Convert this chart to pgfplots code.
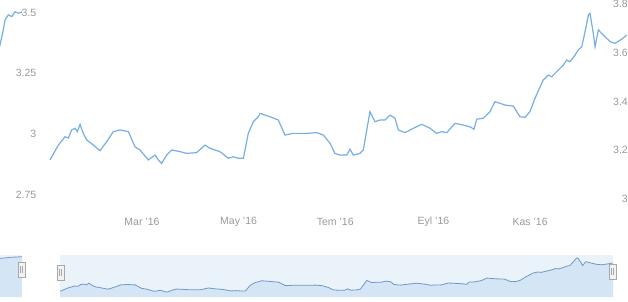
\documentclass[border=0pt]{standalone}
\usepackage{pgfplots}
\pgfplotsset{compat=1.18}
\usepackage{pgfplotstable}
\usepackage{fontspec}
\setmainfont{Liberation Sans}
\definecolor{serie}{HTML}{76AEE6}
\definecolor{navline}{HTML}{7199C6}
\definecolor{navbg}{HTML}{EAF2FA}
\definecolor{navarea}{HTML}{D4E5F5}
\definecolor{lbl}{HTML}{999999}
\definecolor{hdl}{HTML}{F2F2F2}
\definecolor{hdlb}{HTML}{A8A8A8}

\pgfplotstableread{
d v
1.9 3.160
7.2 3.221
11.4 3.255
13.5 3.250
15.6 3.283
17.7 3.290
19.2 3.276
20.9 3.306
22.9 3.269
25.1 3.242
29.3 3.221
33.5 3.198
37.7 3.235
41.9 3.276
46.1 3.283
51.4 3.276
55.6 3.214
58.7 3.201
64.0 3.160
68.2 3.180
70.3 3.160
72.4 3.146
75.6 3.180
78.7 3.201
84.0 3.194
88.2 3.187
94.5 3.190
99.8 3.221
102.9 3.208
109.2 3.194
114.5 3.167
117.6 3.173
120.8 3.167
124.0 3.167
127.1 3.269
130.3 3.317
133.4 3.337
134.5 3.351
140.8 3.337
146.0 3.324
150.3 3.262
155.5 3.269
164.0 3.269
170.3 3.272
174.5 3.262
178.7 3.228
181.8 3.187
185.0 3.180
189.2 3.180
191.3 3.204
193.4 3.180
197.6 3.187
199.7 3.201
203.9 3.358
207.1 3.317
210.3 3.324
213.4 3.324
216.6 3.344
219.7 3.331
221.8 3.283
226.0 3.272
231.3 3.290
236.6 3.306
241.8 3.290
246.0 3.269
249.2 3.276
252.4 3.272
257.6 3.310
262.8 3.303
267.1 3.296
269.6 3.286
271.3 3.327
275.5 3.331
279.7 3.358
282.8 3.399
286.0 3.392
289.2 3.385
294.4 3.381
298.6 3.337
301.8 3.335
304.9 3.358
308.1 3.413
313.3 3.488
316.5 3.508
318.6 3.501
321.8 3.522
326.0 3.549
328.1 3.570
330.2 3.563
333.4 3.590
335.4 3.611
337.6 3.624
339.7 3.686
341.8 3.754
342.8 3.761
344.9 3.679
346.0 3.624
348.1 3.693
351.2 3.672
355.5 3.645
358.6 3.638
362.8 3.655
366.0 3.672
}\eurtry

\pgfplotstableread{
x v
-8 3.280
-3 3.320
0 3.366
3.3 3.428
5 3.469
8.3 3.490
11.7 3.483
15 3.503
18.3 3.497
22 3.502
}\prevtop

\pgfplotstableread{
x v
-30 0.88
-15 0.90
0 0.92
5 0.93
10 0.945
15 0.95
22 0.96
}\prevnav

\begin{document}
\begin{tikzpicture}[x=1pt,y=1pt]
\useasboundingbox (0,0) rectangle (628,301);
\clip (0,0) rectangle (628,301);
\pgfplotsset{every axis/.append style={
  scale only axis,
  font=\fontsize{10.5}{12}\selectfont,
  tick label style={text=lbl},
  axis line style={draw=none},
  tick style={draw=none},
  major tick length=0pt}}

% previous chart fragment (top left)
\begin{axis}[at={(-200pt,96pt)}, anchor=south west,
  width=238.5pt, height=205pt,
  xmin=-200, xmax=38.5, ymin=2.7078, ymax=3.5514,
  xtick=\empty,
  ytick={2.75,3,3.25,3.5}, yticklabels={2.75,3,3.25,3.5},
  yticklabel pos=right,
  yticklabel style={anchor=east, inner sep=0pt, xshift=-2pt}]
\addplot[serie, line width=1.2pt] table[x=x,y=v]{\prevtop};
\end{axis}

% previous chart navigator fragment
\begin{axis}[at={(-300pt,4pt)}, anchor=south west,
  width=322pt, height=42pt,
  xmin=-300, xmax=22, ymin=0, ymax=1,
  ticks=none, axis background/.style={fill=navbg}]
\addplot[draw=none, fill=navarea] table[x=x,y=v]{\prevnav} \closedcycle;
\addplot[navline, line width=0.8pt] table[x=x,y=v]{\prevnav};
\end{axis}

% main chart
\begin{axis}[at={(48pt,96pt)}, anchor=south west,
  width=582pt, height=205pt,
  xmin=0.66, xmax=368.07, ymin=2.9754, ymax=3.8156,
  xtick={60,121,182,244,305},
  xticklabels={Mar '16, May '16, Tem '16, Eyl '16, Kas '16},
  xticklabel style={anchor=center, inner sep=0pt, yshift=-17pt},
  ytick={3,3.2,3.4,3.6,3.8}, yticklabels={3,3.2,3.4,3.6,3.8},
  yticklabel pos=right,
  yticklabel style={anchor=east, inner sep=0pt, xshift=-2pt}]
\addplot[serie, line width=1.2pt] table[x=d,y=v]{\eurtry};
\end{axis}

% navigator
\begin{axis}[at={(60pt,4pt)}, anchor=south west,
  width=553pt, height=42pt,
  xmin=1.9, xmax=366, ymin=3.058, ymax=3.814,
  ticks=none, axis background/.style={fill=navbg}]
\addplot[draw=none, fill=navarea] table[x=d,y=v]{\eurtry} \closedcycle;
\addplot[navline, line width=0.8pt] table[x=d,y=v]{\eurtry};
\end{axis}

% navigator handles
\foreach \hx/\hy in {57/21, 609/22, 18/24} {
  \draw[fill=hdl, draw=hdlb, line width=0.6pt] (\hx,\hy) rectangle ++(7,15);
  \draw[hdlb, line width=0.5pt] (\hx+2.6,\hy+4) -- ++(0,7);
  \draw[hdlb, line width=0.5pt] (\hx+4.4,\hy+4) -- ++(0,7);
}
\end{tikzpicture}
\end{document}
